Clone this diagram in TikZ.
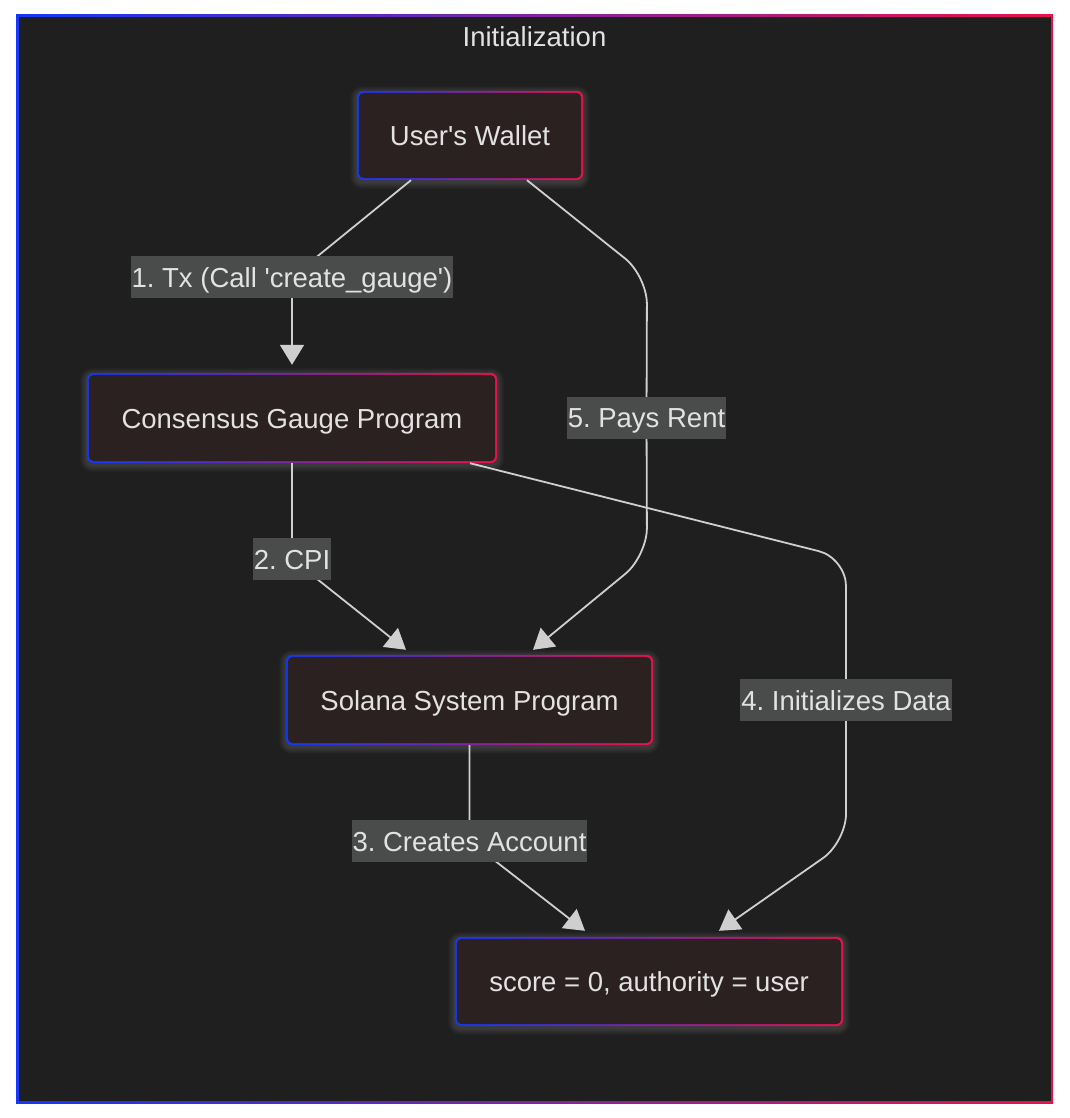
\documentclass[tikz,border=0pt]{standalone}
\usepackage{fontspec}
\setmainfont{Liberation Sans}
\usetikzlibrary{arrows.meta,calc}
\definecolor{bgdark}{HTML}{1F1F1F}
\definecolor{nodefill}{HTML}{2B2121}
\definecolor{lblfill}{HTML}{4A4C4B}
\definecolor{txtc}{HTML}{E2E2E2}
\definecolor{edgec}{HTML}{CFCFCF}
\definecolor{gblue}{HTML}{1438F5}
\definecolor{gred}{HTML}{E8124A}
\pgfdeclarelayer{frame}
\pgfdeclarelayer{background}
\pgfdeclarelayer{edges}
\pgfsetlayers{frame,background,edges,main}
\frenchspacing
\newcommand\gbox[6]{%
  \node[gnode, minimum width=#4, minimum height=#5] (#1) at (#2,#3) {#6};
  \begin{pgfonlayer}{background}
    \foreach \i in {1,...,7} {
      \fill[white, opacity=0.02, rounded corners=6+\i]
        ($(#1.south west)+(-\i,\i+2)$) rectangle ($(#1.north east)+(\i,-\i+2)$);
    }
    \shade[left color=gblue, right color=gred, rounded corners=7]
      (#1.south west) rectangle (#1.north east);
    \fill[nodefill, rounded corners=5]
      ($(#1.south west)+(2,-2)$) rectangle ($(#1.north east)+(-2,2)$);
  \end{pgfonlayer}}
\tikzset{
  mainfont/.style={font=\fontsize{27.5}{33}\selectfont, text=txtc,
    text height=23pt, text depth=3pt},
  gnode/.style={mainfont, inner sep=0pt, draw=none},
  lbl/.style={mainfont, fill=lblfill, inner xsep=1pt, inner ysep=0pt, minimum height=42},
  edge/.style={draw=edgec, line width=1.8pt, line join=round,
    -{Triangle[length=20pt,width=24pt]}},
}
\begin{document}
\begin{tikzpicture}[x=1pt,y=-1pt]
\begin{pgfonlayer}{frame}
  \fill[white] (0,0) rectangle (1069,1118);
  \shade[left color=gblue, right color=gred] (16,15) rectangle (1053,1103);
  \fill[bgdark] (18.5,17.5) rectangle (1050.5,1100.5);
\end{pgfonlayer}
\useasboundingbox (0,0) rectangle (1069,1118);

\node[mainfont] (title) at (534.5,37) {Initialization};

\gbox{wallet}{470}{135.5}{226}{89}{User\textquotesingle s Wallet}
\gbox{consensus}{292}{418}{410}{90}{Consensus Gauge Program}
\gbox{system}{469.5}{700}{367}{90}{Solana System Program}
\gbox{score}{649}{981.5}{388}{89}{score = 0, authority = user}

\node[lbl] (l1) at (292,277) {1. Tx (Call \textquotesingle create\_gauge\textquotesingle)};
\node[lbl] (l5) at (646.5,417.5) {5. Pays Rent};
\node[lbl] (l2) at (292,559) {2. CPI};
\node[lbl] (l4) at (846,700) {4. Initializes Data};
\node[lbl] (l3) at (469.5,841) {3. Creates Account};

\begin{pgfonlayer}{edges}
  \draw[edge, shorten >=8pt] ([xshift=-59pt]wallet.south) -- (l1.center) -- (consensus.north);
  \draw[edge, rounded corners=28] ([xshift=57pt]wallet.south) -- (647,276) -- (l5.center)
     -- (647,556) -- ([xshift=63.5pt,yshift=5pt]system.north);
  \draw[edge] (consensus.south) -- (l2.center) -- ([xshift=-63.5pt,yshift=5pt]system.north);
  \draw[edge, rounded corners=28] ([xshift=178pt]consensus.south) -- (846,558) -- (l4.center)
     -- (846,842) -- ([xshift=70pt,yshift=6pt]score.north);
  \draw[edge] (system.south) -- (l3.center) -- ([xshift=-64pt,yshift=6pt]score.north);
\end{pgfonlayer}
\end{tikzpicture}
\end{document}
